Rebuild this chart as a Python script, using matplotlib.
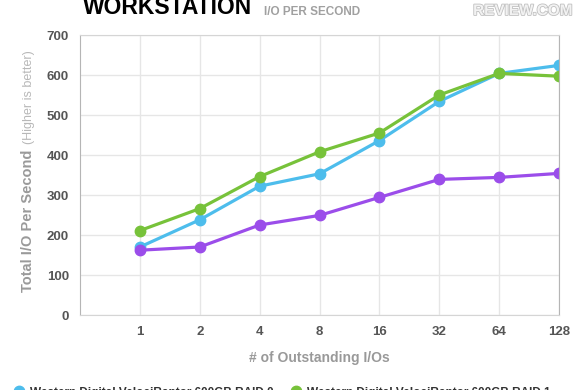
import matplotlib
matplotlib.use('Agg')
import matplotlib.pyplot as plt
import matplotlib.patheffects as pe

plt.rcParams['font.family'] = ['Liberation Sans', 'DejaVu Sans']

# data
queue_depths = ['1', '2', '4', '8', '16', '32', '64', '128']
raid0 = [170, 238, 322, 353, 436, 534, 604, 624]
raid1 = [211, 266, 346, 408, 455, 550, 604, 597]
single = [162, 170, 225, 249, 294, 339, 344, 354]

series_names = ['Western Digital VelociRaptor 600GB RAID 0',
                'Western Digital VelociRaptor 600GB RAID 1',
                'Western Digital VelociRaptor 600GB']
colors = ['#4dbdec', '#77c23a', '#9b4dea']

fig = plt.figure(figsize=(5.8, 3.9), dpi=100)
ax = fig.add_axes([80 / 580, 1 - 315 / 390, (559 - 80) / 580, (315 - 35) / 390])

x = range(1, len(queue_depths) + 1)
lines = []
for vals, name, c in zip([raid0, raid1, single], series_names, colors):
    ln, = ax.plot(x, vals, color=c, lw=2.3, marker='o', ms=7.5, label=name,
                  solid_capstyle='round')
    lines.append(ln)

ax.set_xlim(0, 8)
ax.set_ylim(0, 700)
ax.set_xticks(list(x))
ax.set_xticklabels(queue_depths)
ax.set_yticks(range(0, 701, 100))
ax.tick_params(length=0, labelsize=9.5, colors='#555555', pad=8)
for lab in ax.get_xticklabels() + ax.get_yticklabels():
    lab.set_fontweight('bold')
ax.grid(True, color='#e6e6e6', lw=1)
ax.set_axisbelow(True)
for side in ['left', 'right']:
    ax.spines[side].set_color('#b5b5b5')
for side in ['top', 'bottom']:
    ax.spines[side].set_color('#d5d5d5')

ax.set_xlabel('# of Outstanding I/Os', fontsize=10, fontweight='bold',
              color='#999999', labelpad=9)

# y label in two parts
t1 = fig.text(32 / 580, 1 - 292 / 390, 'Total I/O Per Second', rotation=90,
              rotation_mode='anchor', ha='left', va='baseline',
              fontsize=10.5, fontweight='bold', color='#9a9a9a')
fig.canvas.draw()
bb = t1.get_window_extent()
fig.text(32 / 580, (bb.y1 + 6) / 390, '(Higher is better)', rotation=90,
         rotation_mode='anchor', ha='left', va='baseline',
         fontsize=9, color='#b8b8b8')

# header
fig.text(83 / 580, 1 - 14 / 390, 'WORKSTATION', fontsize=16.5, fontweight='bold',
         color='black', ha='left', va='baseline')
fig.text(264 / 580, 1 - 15 / 390, 'I/O PER SECOND', fontsize=8.5,
         fontweight='bold', color='#a0a0a0', ha='left', va='baseline')
fig.text(572 / 580, 1 - 15 / 390, 'REVIEW.COM', fontsize=11, fontweight='bold',
         color='#f2f2f2', ha='right', va='baseline',
         path_effects=[pe.withStroke(linewidth=1.2, foreground='#c0c0c0')])

# legend fills column-wise: order so RAID 0 / RAID 1 sit on the first row
order = [0, 2, 1]
fig.legend([lines[i] for i in order], [series_names[i] for i in order],
           loc='upper left', bbox_to_anchor=(4 / 580, 1 - 376 / 390), ncol=2,
           frameon=False, handlelength=0.8, handletextpad=0.5,
           columnspacing=1.5, labelcolor='#333333',
           prop={'weight': 'bold', 'size': 8.5})

fig.savefig('out.png', dpi=100)
